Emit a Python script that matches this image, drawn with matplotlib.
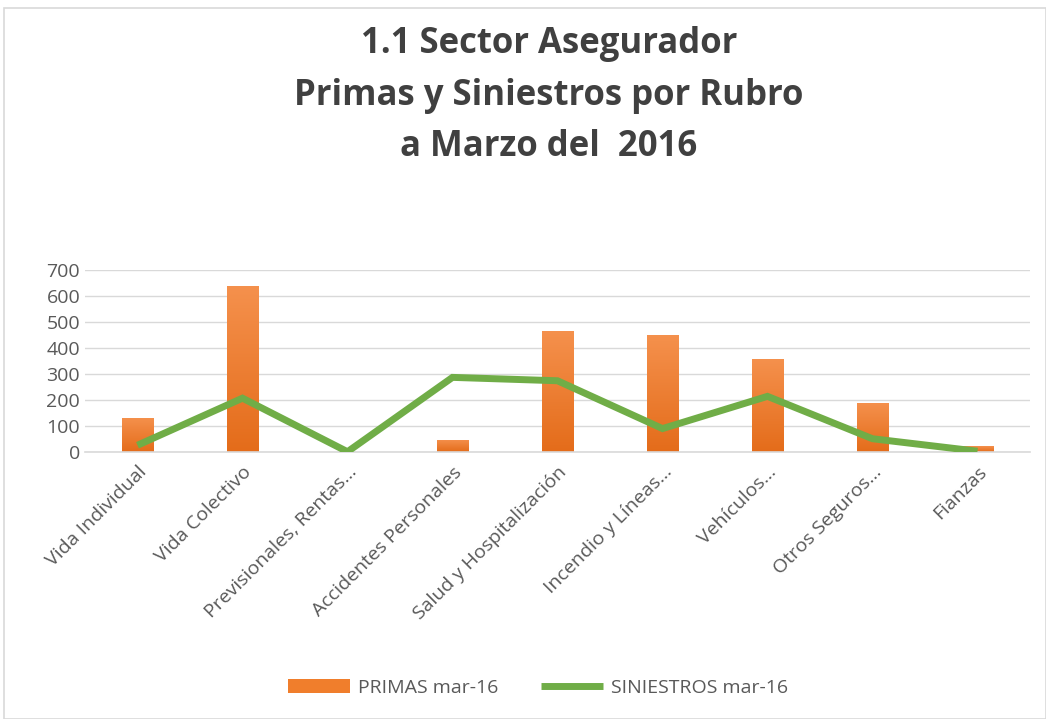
import matplotlib.pyplot as plt
import numpy as np
from matplotlib.patches import Rectangle
from matplotlib.colors import LinearSegmentedColormap

plt.rcParams['font.family'] = ['Open Sans', 'DejaVu Sans']

categories = ['Vida Individual', 'Vida Colectivo', 'Previsionales, Rentas…',
              'Accidentes Personales', 'Salud y Hospitalización', 'Incendio y Líneas…',
              'Vehículos…', 'Otros Seguros…', 'Fianzas']
primas = [131, 639, 0, 47, 466, 451, 358, 190, 23]
siniestros = [26, 207, 1, 287, 274, 90, 214, 51, 3]

fig = plt.figure(figsize=(10.46, 7.19), dpi=100)
ax = fig.add_axes([85 / 1046, 1 - 452 / 719, 945 / 1046, 182 / 719])

x = np.arange(len(categories))
bars = ax.bar(x, primas, width=0.3, color='#F07E2C', label='PRIMAS mar-16', zorder=2)

# vertical gradient inside each bar
grad = np.linspace(0, 1, 256).reshape(-1, 1)
cmap = LinearSegmentedColormap.from_list('og', ['#E46C1A', '#F5914D'])
for b in bars:
    if b.get_height() <= 0:
        continue
    im = ax.imshow(grad, cmap=cmap, aspect='auto', origin='lower',
                   extent=[b.get_x(), b.get_x() + b.get_width(), 0, b.get_height()], zorder=2)
    im.set_clip_path(b)

line, = ax.plot(x, siniestros, color='#70AD47', lw=5, label='SINIESTROS mar-16', zorder=3,
                solid_capstyle='butt', solid_joinstyle='miter')

ax.set_xlim(-0.5, len(categories) - 0.5)
ax.set_ylim(0, 700)
ax.set_yticks(range(0, 701, 100))
ax.yaxis.grid(True, color='#D9D9D9', lw=1, zorder=0)
ax.set_axisbelow(True)
for s in ['top', 'right', 'left']:
    ax.spines[s].set_visible(False)
ax.spines['bottom'].set_color('#D9D9D9')
ax.spines['bottom'].set_linewidth(1.2)
ax.tick_params(axis='both', length=0, colors='#595959', labelsize=14)
ax.set_xticks(x)
ax.set_xticklabels(categories, rotation=45, ha='right', rotation_mode='anchor')
ax.tick_params(axis='x', pad=8)

fig.text(549 / 1046, 1 - 26 / 719, '1.1 Sector Asegurador\nPrimas y Siniestros por Rubro\na Marzo del  2016',
         ha='center', va='top', fontsize=25, fontweight='bold', color='#404040',
         linespacing=1.58)

fig.legend(handles=[bars, line], labels=['PRIMAS mar-16', 'SINIESTROS mar-16'],
           loc='center', bbox_to_anchor=(538 / 1046, 1 - 688 / 719), ncol=2, frameon=False,
           fontsize=14, labelcolor='#595959', handlelength=3.2, handletextpad=0.4,
           columnspacing=2.2)

fig.patches.append(Rectangle((4 / 1046, 0.0), 1 - 4 / 1046, 1 - 8 / 719, transform=fig.transFigure,
                             fill=False, edgecolor='#D9D9D9', lw=1.2))

fig.savefig('out.png', dpi=100)
